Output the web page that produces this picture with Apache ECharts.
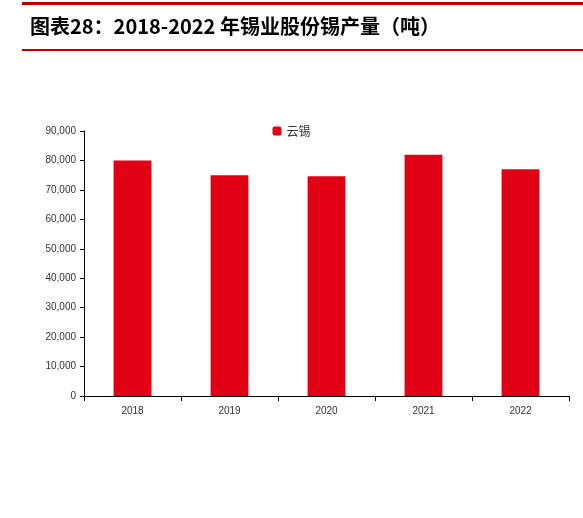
<!DOCTYPE html>
<html><head><meta charset="utf-8">
<script src="https://cdn.jsdelivr.net/npm/echarts@6/dist/echarts.min.js"></script>
<style>html,body{margin:0;padding:0;background:#fff}#c{width:583px;height:518px}</style>
</head><body><div id="c"></div>
<script>
const categories = ['2018','2019','2020','2021','2022'];
const values = [80000, 75000, 74600, 81900, 77000];
const seriesName = '云锡';
const titleText = '图表28：2018-2022 年锡业股份锡产量（吨）';
const chart = echarts.init(document.getElementById('c'));
chart.setOption({
  animation:false,
  graphic:[
    {type:'rect',shape:{x:22,y:2,width:561,height:3},style:{fill:'#c00000'}},
    {type:'rect',shape:{x:22,y:49,width:561,height:2},style:{fill:'#c00000'}},
    {type:'text',left:30,top:16,style:{text:titleText,fontSize:20,fontWeight:'bold',fill:'#000',fontFamily:'Noto Sans CJK SC'}}
  ],
  legend:{top:120,left:'center',itemWidth:9,itemHeight:9,textStyle:{fontSize:12,color:'#333',fontFamily:'Noto Sans CJK SC'},data:[seriesName]},
  grid:{left:84,right:14,top:131,bottom:122,containLabel:false},
  xAxis:{type:'category',data:categories,axisTick:{show:true,alignWithLabel:false,length:5,lineStyle:{color:'#000'}},axisLine:{lineStyle:{color:'#000'}},axisLabel:{fontSize:10,color:'#333',margin:10}},
  yAxis:{type:'value',min:0,max:90000,interval:10000,splitLine:{show:false},axisLine:{show:true,lineStyle:{color:'#000'}},axisTick:{show:true,inside:false,length:4,lineStyle:{color:'#000'}},axisLabel:{fontSize:10,color:'#333',formatter:v=>v.toLocaleString('en-US')}},
  series:[{name:seriesName,type:'bar',data:values,barWidth:'39%',itemStyle:{color:'#e10014'}}]
});
</script></body></html>
